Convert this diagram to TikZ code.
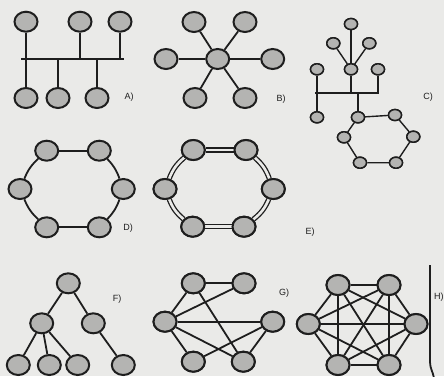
\documentclass[tikz,border=0pt]{standalone}
\usepackage{fontspec}
\setmainfont{Liberation Sans}
\usetikzlibrary{shapes.geometric}
\definecolor{paper}{RGB}{234,234,232}
\definecolor{nodefill}{RGB}{180,180,178}
\definecolor{ink}{RGB}{30,30,30}
\tikzset{
  pc/.style={ellipse, draw=ink, fill=nodefill, line width=2pt, minimum width=23pt, minimum height=20pt, inner sep=0pt},
  spc/.style={ellipse, draw=ink, fill=nodefill, line width=1.5pt, minimum width=13pt, minimum height=11pt, inner sep=0pt},
  wire/.style={draw=ink, line width=1.8pt},
  swire/.style={draw=ink, line width=1.4pt},
  bus/.style={draw=ink, line width=2pt},
  dwire/.style={draw=ink, line width=1.3pt, double=paper, double distance=2.6pt},
  lbl/.style={font=\fontsize{9}{10}\selectfont, text=ink, inner sep=0pt}
}
\begin{document}
\begin{tikzpicture}[x=1pt,y=1pt]
\fill[paper] (0,-376) rectangle (444,0);
\useasboundingbox (0,-376) rectangle (444,0);
\clip (0,-376) rectangle (444,0);

% ---------- A) bus ----------
\coordinate (aL) at (21,-59);
\coordinate (aR) at (124,-59);
\draw[bus] (aL) -- (aR);
\node[pc] (a1) at (26,-21.7) {};
\node[pc] (a2) at (80,-21.7) {};
\node[pc] (a3) at (120,-21.7) {};
\node[pc] (b1) at (26,-98) {};
\node[pc] (b2) at (58,-98) {};
\node[pc] (b3) at (97,-98) {};
\draw[wire] (a1) -- (b1);
\draw[wire] (a2) -- (a2 |- aL);
\draw[wire] (a3) -- (a3 |- aL);
\draw[wire] (b2) -- (b2 |- aL);
\draw[wire] (b3) -- (b3 |- aL);
\node[lbl] (la) at (129,-97) {A)};

% ---------- B) star ----------
\node[pc] (s0) at (217.7,-59) {};
\node[pc] (s1) at (194,-22) {};
\node[pc] (s2) at (245,-22) {};
\node[pc] (s3) at (166,-59) {};
\node[pc] (s4) at (272.7,-59) {};
\node[pc] (s5) at (195,-98) {};
\node[pc] (s6) at (245,-98) {};
\foreach \i in {1,...,6} \draw[wire] (s0) -- (s\i);
\node[lbl] (lb) at (281,-99) {B)};

% ---------- C) hybrid ----------
\node[spc] (ct) at (351,-24) {};
\node[spc] (c1) at (333.3,-43.3) {};
\node[spc] (c2) at (369.3,-43.3) {};
\node[spc] (c0) at (351,-69.3) {};
\node[spc] (cl) at (317,-69.3) {};
\node[spc] (cr) at (378,-69.3) {};
\node[spc] (cb) at (317,-117.3) {};
\node[spc] (r1) at (358,-117.3) {};
\node[spc] (r2) at (395,-115) {};
\node[spc] (r3) at (413.3,-136.7) {};
\node[spc] (r4) at (396,-162.7) {};
\node[spc] (r5) at (360,-162.7) {};
\node[spc] (r6) at (344,-137.3) {};
\coordinate (cL) at (315,-93);
\coordinate (cR) at (379,-93);
\draw[bus, line width=1.6pt] (cL) -- (cR);
\draw[swire] (ct) -- (c0);
\draw[swire] (c1) -- (c0);
\draw[swire] (c2) -- (c0);
\draw[swire] (c0) -- (c0 |- cL);
\draw[swire] (cl) -- (cb);
\draw[swire] (cr) -- (cr |- cL);
\draw[swire] (r1) -- (r1 |- cL);
\draw[swire] (r1) -- (r2) -- (r3) -- (r4) -- (r5) -- (r6) -- (r1);
\foreach \n in {ct,c1,c2,c0,cl,cr,cb,r1,r2,r3,r4,r5,r6} \node[spc] at (\n) {};
\node[lbl] (lc) at (428,-97) {C)};

% ---------- D) ring ----------
\node[pc] (d1) at (46.7,-150.7) {};
\node[pc] (d2) at (99.3,-150.7) {};
\node[pc] (d3) at (123.3,-189) {};
\node[pc] (d4) at (99.3,-227.3) {};
\node[pc] (d5) at (46.7,-227.3) {};
\node[pc] (d6) at (20,-189) {};
\draw[wire] (d1) -- (d2);
\draw[wire] (d2) to[bend left=12] (d3);
\draw[wire] (d3) to[bend left=12] (d4);
\draw[wire] (d4) -- (d5);
\draw[wire] (d5) to[bend left=12] (d6);
\draw[wire] (d6) to[bend left=12] (d1);
\node[lbl] (ld) at (128,-228) {D)};

% ---------- E) double ring ----------
\node[pc] (e1) at (193.3,-150) {};
\node[pc] (e2) at (246,-150) {};
\node[pc] (e3) at (273.3,-189) {};
\node[pc] (e4) at (244,-226.7) {};
\node[pc] (e5) at (192.7,-226.7) {};
\node[pc] (e6) at (165,-189) {};
\draw[dwire] (e1) -- (e2);
\draw[dwire] (e2) to[bend left=14] (e3);
\draw[dwire] (e3) to[bend left=14] (e4);
\draw[dwire] (e4) -- (e5);
\draw[dwire] (e5) to[bend left=14] (e6);
\draw[dwire] (e6) to[bend left=14] (e1);
\foreach \n in {e1,e2,e3,e4,e5,e6} \node[pc] at (\n) {};
\node[lbl] (le) at (310,-232) {E)};

% ---------- F) tree ----------
\node[pc] (f0) at (68.3,-283.3) {};
\node[pc] (f1) at (41.7,-323.3) {};
\node[pc] (f2) at (93.3,-323.3) {};
\node[pc] (f3) at (18.3,-365) {};
\node[pc] (f4) at (49.3,-365) {};
\node[pc] (f5) at (77.7,-365) {};
\node[pc] (f6) at (123.3,-365) {};
\draw[wire] (f0) -- (f1);
\draw[wire] (f0) -- (f2);
\draw[wire] (f1) -- (f3);
\draw[wire] (f1) -- (f4);
\draw[wire] (f1) -- (f5);
\draw[wire] (f2) -- (f6);
\node[lbl] (lf) at (117,-299) {F)};

% ---------- G) partial mesh ----------
\node[pc] (g1) at (193.3,-283.3) {};
\node[pc] (g2) at (244,-283.3) {};
\node[pc] (g3) at (165,-321.7) {};
\node[pc] (g4) at (272.7,-321.7) {};
\node[pc] (g5) at (193.3,-361.7) {};
\node[pc] (g6) at (243.3,-361.7) {};
\draw[wire] (g1) -- (g2);
\draw[wire] (g1) -- (g3);
\draw[wire] (g1) -- (g6);
\draw[wire] (g3) -- (g2);
\draw[wire] (g3) -- (g4);
\draw[wire] (g3) -- (g5);
\draw[wire] (g3) -- (g6);
\draw[wire] (g4) -- (g5);
\draw[wire] (g4) -- (g6);
\foreach \n in {g1,g2,g3,g4,g5,g6} \node[pc] at (\n) {};
\node[lbl] (lg) at (284,-293) {G)};

% ---------- H) full mesh ----------
\node[pc] (h1) at (338,-285) {};
\node[pc] (h2) at (389,-285) {};
\node[pc] (h3) at (308.3,-324) {};
\node[pc] (h4) at (416,-324) {};
\node[pc] (h5) at (338,-365) {};
\node[pc] (h6) at (389,-365) {};
\foreach \i/\j in {1/2,1/3,1/4,1/5,1/6,2/3,2/4,2/5,2/6,3/4,3/5,3/6,4/5,4/6,5/6}
  \draw[wire] (h\i) -- (h\j);
\foreach \n in {h1,h2,h3,h4,h5,h6} \node[pc] at (\n) {};
\coordinate (hb1) at (430,-265);
\coordinate (hb2) at (430,-362);
\coordinate (hb3) at (434,-378);
\draw[wire] (hb1) -- (hb2) to[out=-90,in=100] (hb3);
\node[lbl, anchor=west] (lh) at (434,-297) {H)};
\end{tikzpicture}
\end{document}
